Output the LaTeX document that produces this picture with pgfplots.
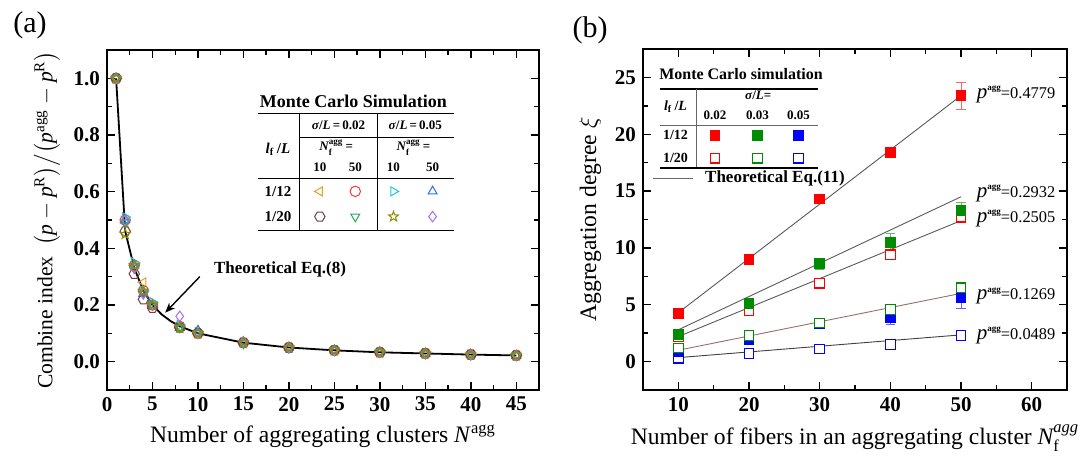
\documentclass[border=0pt]{standalone}
\usepackage{amsmath}
\usepackage{pgfplots}
\pgfplotsset{compat=1.18}
\usepackage{fontspec}
\setmainfont{Liberation Serif}
\usetikzlibrary{plotmarks,arrows.meta}

% open hexagon and open five-point star marks
\pgfdeclareplotmark{hexa}{%
  \pgfpathmoveto{\pgfpointpolar{0}{\pgfplotmarksize}}%
  \pgfpathlineto{\pgfpointpolar{60}{\pgfplotmarksize}}%
  \pgfpathlineto{\pgfpointpolar{120}{\pgfplotmarksize}}%
  \pgfpathlineto{\pgfpointpolar{180}{\pgfplotmarksize}}%
  \pgfpathlineto{\pgfpointpolar{240}{\pgfplotmarksize}}%
  \pgfpathlineto{\pgfpointpolar{300}{\pgfplotmarksize}}%
  \pgfpathclose\pgfusepathqstroke}
\pgfdeclareplotmark{ostar}{%
  \pgfpathmoveto{\pgfpointpolar{90}{\pgfplotmarksize}}%
  \pgfpathlineto{\pgfpointpolar{126}{0.42\pgfplotmarksize}}%
  \pgfpathlineto{\pgfpointpolar{162}{\pgfplotmarksize}}%
  \pgfpathlineto{\pgfpointpolar{198}{0.42\pgfplotmarksize}}%
  \pgfpathlineto{\pgfpointpolar{234}{\pgfplotmarksize}}%
  \pgfpathlineto{\pgfpointpolar{270}{0.42\pgfplotmarksize}}%
  \pgfpathlineto{\pgfpointpolar{306}{\pgfplotmarksize}}%
  \pgfpathlineto{\pgfpointpolar{342}{0.42\pgfplotmarksize}}%
  \pgfpathlineto{\pgfpointpolar{18}{\pgfplotmarksize}}%
  \pgfpathlineto{\pgfpointpolar{54}{0.42\pgfplotmarksize}}%
  \pgfpathclose\pgfusepathqstroke}

\definecolor{cA}{RGB}{225,160,30}
\definecolor{cB}{RGB}{240,60,60}
\definecolor{cC}{RGB}{30,200,210}
\definecolor{cD}{RGB}{40,110,240}
\definecolor{cE}{RGB}{120,60,60}
\definecolor{cF}{RGB}{40,170,90}
\definecolor{cG}{RGB}{140,140,0}
\definecolor{cH}{RGB}{170,110,230}
\definecolor{rr}{RGB}{255,0,0}
\definecolor{gg}{RGB}{0,140,0}
\definecolor{bb}{RGB}{0,0,255}

\pgfplotsset{
  myax/.style={scale only axis, clip=false,
    axis line style={line width=0.8pt},
    tick align=inside, tick style={black, line width=0.7pt},
    major tick length=4pt, minor tick length=2.5pt,
    /pgf/number format/assume math mode=true,
    tick label style={font=\fontsize{10.5}{11}\selectfont\bfseries},
    label style={font=\fontsize{11.8}{13}\selectfont}},
  ma/.style={only marks, line width=0.5pt, mark size=2.6pt},
  sq/.style={only marks, mark=square*, mark size=2.4pt, line width=0.6pt,
    error bars/y dir=both, error bars/y explicit},
}
\newcommand{\tfont}[1]{\fontsize{#1}{#1}\selectfont\bfseries}
\newcommand{\plab}[1]{{\fontsize{10.5}{12}\selectfont\textit{p}}\raisebox{0.8ex}{\fontsize{4.5}{5}\selectfont\bfseries agg}{\fontsize{8.2}{10}\selectfont =#1}}

\begin{document}
\begin{tikzpicture}
\useasboundingbox (0,0) rectangle (546pt,228.5pt);
\node[font=\fontsize{15}{16}\selectfont] at (15pt,216pt) {(a)};
\node[font=\fontsize{15}{16}\selectfont] at (295pt,213.5pt) {(b)};

% ---------------- panel (a)
\begin{axis}[myax, at={(53.5pt,33.5pt)}, anchor=south west,
  width=216pt, height=170pt,
  xmin=0, xmax=47.5, ymin=-0.1, ymax=1.1,
  xtick={0,5,...,45}, minor x tick num=1,
  ytick={0,0.2,0.4,0.6,0.8,1.0}, minor y tick num=1,
  yticklabel style={/pgf/number format/.cd, fixed, fixed zerofill, precision=1},
  xlabel={Number of aggregating clusters \textit{N}\textsuperscript{agg}},
  ylabel={Combine index\ \ $\big(\textit{p}-\textit{p}^{\text{R}}\big)\big/\big(\textit{p}^{\text{agg}}-\textit{p}^{\text{R}}\big)$},
  ylabel style={font=\fontsize{10.8}{12}\selectfont},
]
\addplot[black, line width=0.9pt] coordinates {(1,1) (2,0.46) (3,0.33) (4,0.25) (5,0.2) (6,0.167) (7,0.143) (8,0.125) (10,0.1) (15,0.067) (20,0.05) (25,0.04) (30,0.033) (35,0.029) (40,0.025) (45,0.022)};

\addplot[ma, cA, mark=triangle, mark options={rotate=90}] coordinates {(1,1) (2,0.49) (3,0.34) (4,0.28) (5,0.2) (8,0.12) (10,0.1) (15,0.065) (20,0.05) (25,0.04) (30,0.033) (35,0.028) (40,0.025) (45,0.022)};
\addplot[ma, cB, mark=o] coordinates {(1,1) (2,0.5) (3,0.34) (4,0.25) (5,0.2) (8,0.125) (10,0.1) (15,0.067) (20,0.05) (25,0.04) (30,0.033) (35,0.029) (40,0.025) (45,0.022)};
\addplot[ma, cC, mark=triangle, mark options={rotate=-90}] coordinates {(1,1) (2,0.51) (3,0.35) (4,0.25) (5,0.21) (8,0.13) (10,0.105) (15,0.068) (20,0.05) (25,0.04) (30,0.034) (35,0.029) (40,0.025) (45,0.022)};
\addplot[ma, cD, mark=triangle] coordinates {(1,1) (2,0.5) (3,0.34) (4,0.24) (5,0.2) (8,0.12) (10,0.11) (15,0.07) (20,0.05) (25,0.04) (30,0.033) (35,0.028) (40,0.025) (45,0.021)};
\addplot[ma, cE, mark=hexa] coordinates {(1,1) (2,0.46) (3,0.31) (4,0.22) (5,0.19) (8,0.12) (10,0.1) (15,0.067) (20,0.05) (25,0.04) (30,0.033) (35,0.029) (40,0.025) (45,0.022)};
\addplot[ma, cF, mark=triangle, mark options={rotate=180}] coordinates {(1,1) (2,0.49) (3,0.33) (4,0.24) (5,0.2) (8,0.12) (10,0.1) (15,0.064) (20,0.048) (25,0.04) (30,0.033) (35,0.028) (40,0.024) (45,0.022)};
\addplot[ma, cH, mark=diamond] coordinates {(1,1) (2,0.5) (3,0.33) (4,0.24) (5,0.2) (8,0.16) (10,0.1) (15,0.07) (20,0.05) (25,0.04) (30,0.033) (35,0.029) (40,0.025) (45,0.022)};
\addplot[ma, cG, mark=ostar] coordinates {(1,1) (2,0.45) (3,0.34) (4,0.25) (5,0.2) (8,0.12) (10,0.1) (15,0.068) (20,0.05) (25,0.04) (30,0.033) (35,0.029) (40,0.025) (45,0.022)};

% inset table (a)
\node[font=\tfont{9}] at (axis cs:27.1,0.919) {Monte Carlo Simulation};
\draw[line width=0.9pt] (axis cs:16.6,0.876) -- (axis cs:38.1,0.876);
\draw[line width=0.5pt] (axis cs:21.2,0.876) -- (axis cs:21.2,0.463);
\draw[line width=0.5pt] (axis cs:29.7,0.876) -- (axis cs:29.7,0.463);
\draw[line width=0.5pt] (axis cs:21.2,0.792) -- (axis cs:38.1,0.792);
\draw[line width=0.5pt] (axis cs:16.6,0.647) -- (axis cs:38.1,0.647);
\draw[line width=0.9pt] (axis cs:16.6,0.463) -- (axis cs:38.1,0.463);
\node[font=\tfont{6.5}] at (axis cs:25.45,0.834) {\textit{σ}/\textit{L}\,=\,0.02};
\node[font=\tfont{6.5}] at (axis cs:33.9,0.834) {\textit{σ}/\textit{L}\,=\,0.05};
\node[font=\tfont{6.5}] at (axis cs:25.2,0.756) {$\textit{N}^{\text{agg}}_{\text{f}}$\,=};
\node[font=\tfont{6.5}] at (axis cs:33.7,0.756) {$\textit{N}^{\text{agg}}_{\text{f}}$\,=};
\node[font=\tfont{6.5}] at (axis cs:23.4,0.686) {10};
\node[font=\tfont{6.5}] at (axis cs:27.3,0.686) {50};
\node[font=\tfont{6.5}] at (axis cs:31.5,0.686) {10};
\node[font=\tfont{6.5}] at (axis cs:35.8,0.686) {50};
\node[font=\tfont{7.5}] at (axis cs:18.8,0.749) {$\textit{l}_{\text{f}}$\,/\textit{L}};
\node[font=\tfont{7.5}] at (axis cs:18.8,0.601) {1/12};
\node[font=\tfont{7.5}] at (axis cs:18.8,0.512) {1/20};
\addplot[ma, cA, mark=triangle, mark options={rotate=90}] coordinates {(23.4,0.601)};
\addplot[ma, cB, mark=o] coordinates {(27.3,0.601)};
\addplot[ma, cC, mark=triangle, mark options={rotate=-90}] coordinates {(31.5,0.601)};
\addplot[ma, cD, mark=triangle] coordinates {(35.8,0.601)};
\addplot[ma, cE, mark=hexa] coordinates {(23.4,0.512)};
\addplot[ma, cF, mark=triangle, mark options={rotate=180}] coordinates {(27.3,0.512)};
\addplot[ma, cG, mark=ostar] coordinates {(31.5,0.512)};
\addplot[ma, cH, mark=diamond] coordinates {(35.8,0.512)};

\node[font=\tfont{8.5}, anchor=west] at (axis cs:11.0,0.325) {Theoretical Eq.(8)};
\draw[-{Stealth[length=5pt,width=4pt]}, line width=0.7pt] (axis cs:10.2,0.30) -- (axis cs:6.4,0.173);
\end{axis}

% ---------------- panel (b)
\begin{axis}[myax, at={(321.5pt,33.5pt)}, anchor=south west,
  width=212pt, height=170.5pt,
  xmin=5, xmax=65, ymin=-2.5, ymax=27.5,
  xtick={10,20,...,60}, minor x tick num=1,
  ytick={0,5,...,25}, minor y tick num=1,
  xlabel={Number of fibers in an aggregating cluster $\textit{N}_{\text{f}}^{\textit{agg}}$},
  ylabel={Aggregation degree $\xi$},
]
\addplot[black!65, line width=0.45pt] coordinates {(10,4.3) (50,23.4)};
\addplot[black!65, line width=0.45pt] coordinates {(10,2.8) (50,14.5)};
\addplot[black!65, line width=0.45pt] coordinates {(10,2.2) (50,12.4)};
\addplot[color={rgb,255:red,150;green,110;blue,110}, line width=0.45pt] coordinates {(10,1.0) (50,6.0)};
\addplot[black!75, line width=0.45pt] coordinates {(10,0.35) (50,2.35)};

\addplot[sq, draw=bb, fill=white, error bars/error bar style={bb!60}] coordinates {(10,0.3) +- (0,0.1) (20,0.7) +- (0,0.1) (30,1.1) +- (0,0.1) (40,1.5) +- (0,0.1) (50,2.3) +- (0,0.1)};
\addplot[sq, draw=bb, fill=bb, error bars/error bar style={bb!60}] coordinates {(10,0.9) +- (0,0.2) (20,1.9) +- (0,0.2) (30,3.3) +- (0,0.4) (40,3.9) +- (0,0.6) (50,5.6) +- (0,0.9)};
\addplot[sq, draw=gg, fill=white, error bars/error bar style={gg!60}] coordinates {(10,1.2) +- (0,0.1) (20,2.3) +- (0,0.1) (30,3.4) +- (0,0.2) (40,4.6) +- (0,0.2) (50,6.5) +- (0,0.5)};
\addplot[sq, draw=rr, fill=white, error bars/error bar style={rr!60}] coordinates {(10,2.2) +- (0,0.1) (20,4.5) +- (0,0.1) (30,6.9) +- (0,0.2) (40,9.4) +- (0,0.2) (50,12.7) +- (0,0.3)};
\addplot[sq, draw=gg, fill=gg, error bars/error bar style={gg!60}] coordinates {(10,2.4) +- (0,0.2) (20,5.1) +- (0,0.2) (30,8.6) +- (0,0.5) (40,10.5) +- (0,0.8) (50,13.3) +- (0,0.7)};
\addplot[sq, draw=rr, fill=rr, error bars/error bar style={rr!60}] coordinates {(10,4.2) +- (0,0.1) (20,9.0) +- (0,0.2) (30,14.3) +- (0,0.4) (40,18.4) +- (0,0.4) (50,23.4) +- (0,1.2)};

\node[anchor=west, inner sep=0pt] at (axis cs:52.2,23.5) {\plab{0.4779}};
\node[anchor=west, inner sep=0pt] at (axis cs:52.2,14.8) {\plab{0.2932}};
\node[anchor=west, inner sep=0pt] at (axis cs:52.2,12.6) {\plab{0.2505}};
\node[anchor=west, inner sep=0pt] at (axis cs:52.2,5.8) {\plab{0.1269}};
\node[anchor=west, inner sep=0pt] at (axis cs:52.2,2.3) {\plab{0.0489}};

% inset table (b)
\node[font=\tfont{8}, anchor=west] at (axis cs:6.3,25.3) {Monte Carlo simulation};
\draw[line width=0.9pt] (axis cs:7.45,23.95) -- (axis cs:29.7,23.95);
\draw[black!60, line width=0.5pt] (axis cs:12.55,23.95) -- (axis cs:12.55,17.0);
\draw[black!60, line width=0.5pt] (axis cs:7.45,20.8) -- (axis cs:29.7,20.8);
\draw[line width=0.9pt] (axis cs:7.45,17.0) -- (axis cs:29.7,17.0);
\node[font=\tfont{7}] at (axis cs:9.6,22.4) {$\textit{l}_{\text{f}}$\,/\textit{L}};
\node[font=\tfont{6.5}] at (axis cs:21.3,23.4) {\textit{σ}/\textit{L}=};
\node[font=\tfont{6.5}] at (axis cs:15.2,21.7) {0.02};
\node[font=\tfont{6.5}] at (axis cs:21.2,21.7) {0.03};
\node[font=\tfont{6.5}] at (axis cs:27.0,21.7) {0.05};
\node[font=\tfont{7}] at (axis cs:9.6,19.9) {1/12};
\node[font=\tfont{7}] at (axis cs:9.6,17.9) {1/20};
\addplot[sq, draw=rr, fill=rr] coordinates {(15.2,19.9)};
\addplot[sq, draw=gg, fill=gg] coordinates {(21.2,19.9)};
\addplot[sq, draw=bb, fill=bb] coordinates {(27.0,19.9)};
\addplot[sq, draw=rr, fill=white] coordinates {(15.2,17.9)};
\addplot[sq, draw=gg, fill=white] coordinates {(21.2,17.9)};
\addplot[sq, draw=bb, fill=white] coordinates {(27.0,17.9)};
\addplot[black!60, line width=0.5pt] coordinates {(6.46,16.1) (12.1,16.1)};
\node[font=\tfont{8.5}, anchor=west] at (axis cs:12.8,16.1) {Theoretical Eq.(11)};
\end{axis}
\end{tikzpicture}
\end{document}
